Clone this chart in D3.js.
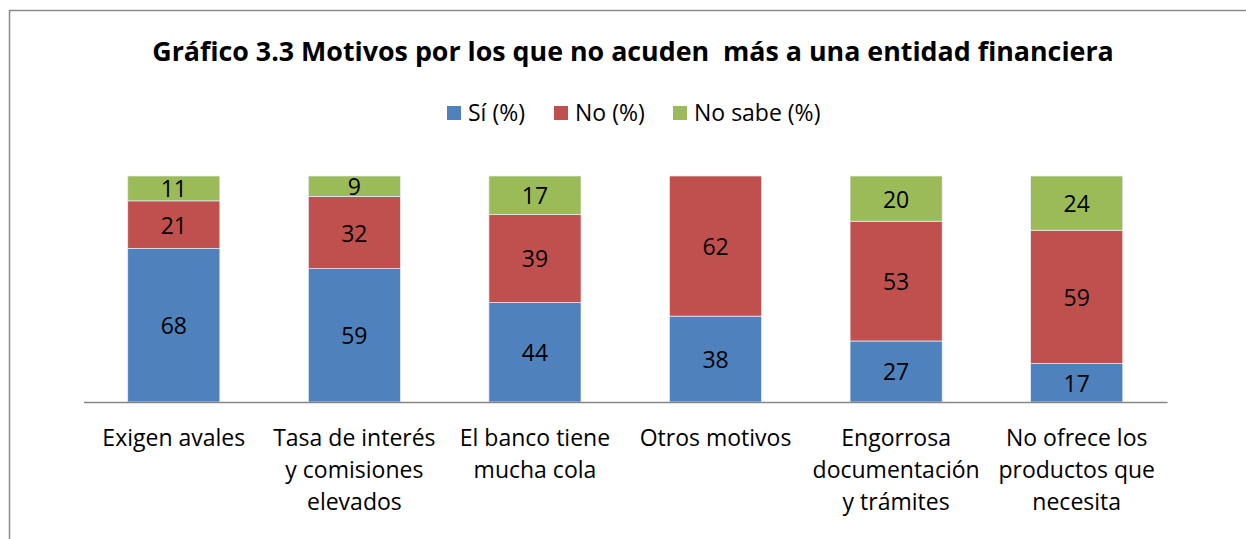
<!DOCTYPE html>
<html>
<head>
<meta charset="utf-8">
<script src="https://cdn.jsdelivr.net/npm/d3@7"></script>
<style>
  body { margin: 0; background: #fff; }
  text { font-family: "Open Sans", sans-serif; fill: #000; white-space: pre; }
</style>
</head>
<body>
<script>
const width = 1246
const height = 539

const categories = [
  ["Exigen avales"],
  ["Tasa de interés", "y comisiones", "elevados"],
  ["El banco tiene", "mucha cola"],
  ["Otros motivos"],
  ["Engorrosa", "documentación", "y trámites"],
  ["No ofrece los", "productos que", "necesita"],
]
const seriesNames = ["Sí (%)", "No (%)", "No sabe (%)"]
const siValues = [68, 59, 44, 38, 27, 17]
const noValues = [21, 32, 39, 62, 53, 59]
const noSabeValues = [11, 9, 17, 0, 20, 24]
const colors = ["#4F81BD", "#C0504D", "#9BBB59"]

const rows = categories.map((c, i) => ({
  key: i,
  label: c,
  si: siValues[i],
  no: noValues[i],
  nosabe: noSabeValues[i],
}))
const keys = ["si", "no", "nosabe"]
const stacked = d3.stack().keys(keys)(rows)

const svg = d3.select("body").append("svg")
  .attr("width", width)
  .attr("height", height)

// chart border (right and bottom are cut off in the original)
svg.append("rect")
  .attr("x", 9.5).attr("y", 10.5)
  .attr("width", 1260).attr("height", 560)
  .attr("fill", "none")
  .attr("stroke", "#8c8c8c")
  .attr("stroke-width", 1.5)

svg.append("text")
  .attr("x", 633)
  .attr("y", 61)
  .attr("text-anchor", "middle")
  .attr("font-size", 26.8)
  .attr("font-weight", "bold")
  .text("Gráfico 3.3 Motivos por los que no acuden  más a una entidad financiera")

// legend
const legendX = [447, 554, 673]
const legend = svg.append("g")
seriesNames.forEach((name, i) => {
  legend.append("rect")
    .attr("x", legendX[i]).attr("y", 106)
    .attr("width", 14).attr("height", 14)
    .attr("fill", colors[i])
  legend.append("text")
    .attr("x", legendX[i] + 21).attr("y", 121)
    .attr("font-size", 23)
    .text(name)
})

const x = d3.scaleBand()
  .domain(rows.map(d => d.key))
  .range([83.5, 1167])
  .paddingInner(0.49)
  .paddingOuter(0.245)

const y = d3.scaleLinear().domain([0, 100]).range([402, 176])

const layers = svg.append("g").selectAll("g")
  .data(stacked)
  .join("g")
  .attr("fill", (d, i) => colors[i])

layers.selectAll("rect")
  .data(d => d)
  .join("rect")
  .attr("x", d => x(d.data.key))
  .attr("width", x.bandwidth())
  .attr("y", d => y(d[1]))
  .attr("height", d => y(d[0]) - y(d[1]))
  .attr("stroke", "#e8eef6")
  .attr("stroke-width", 0.7)

// value labels
layers.each(function(layer) {
  d3.select(this).selectAll("text")
    .data(layer.filter(d => d[1] - d[0] > 0))
    .join("text")
    .attr("x", d => x(d.data.key) + x.bandwidth() / 2)
    .attr("y", d => (y(d[0]) + y(d[1])) / 2 + 9)
    .attr("text-anchor", "middle")
    .attr("font-size", 23)
    .attr("fill", "#000")
    .text(d => d[1] - d[0])
})

// axis
const axis = svg.append("g")
  .attr("transform", "translate(0,402)")
  .call(d3.axisBottom(x).tickSize(0).tickFormat(""))
axis.select(".domain").attr("stroke", "#868686").attr("stroke-width", 1.5)

const labels = svg.append("g")
rows.forEach(d => {
  const t = labels.append("text")
    .attr("x", x(d.key) + x.bandwidth() / 2)
    .attr("y", 446)
    .attr("text-anchor", "middle")
    .attr("font-size", 23)
  d.label.forEach((line, j) => {
    t.append("tspan")
      .attr("x", x(d.key) + x.bandwidth() / 2)
      .attr("dy", j === 0 ? 0 : 32)
      .text(line)
  })
})
</script>
</body>
</html>
